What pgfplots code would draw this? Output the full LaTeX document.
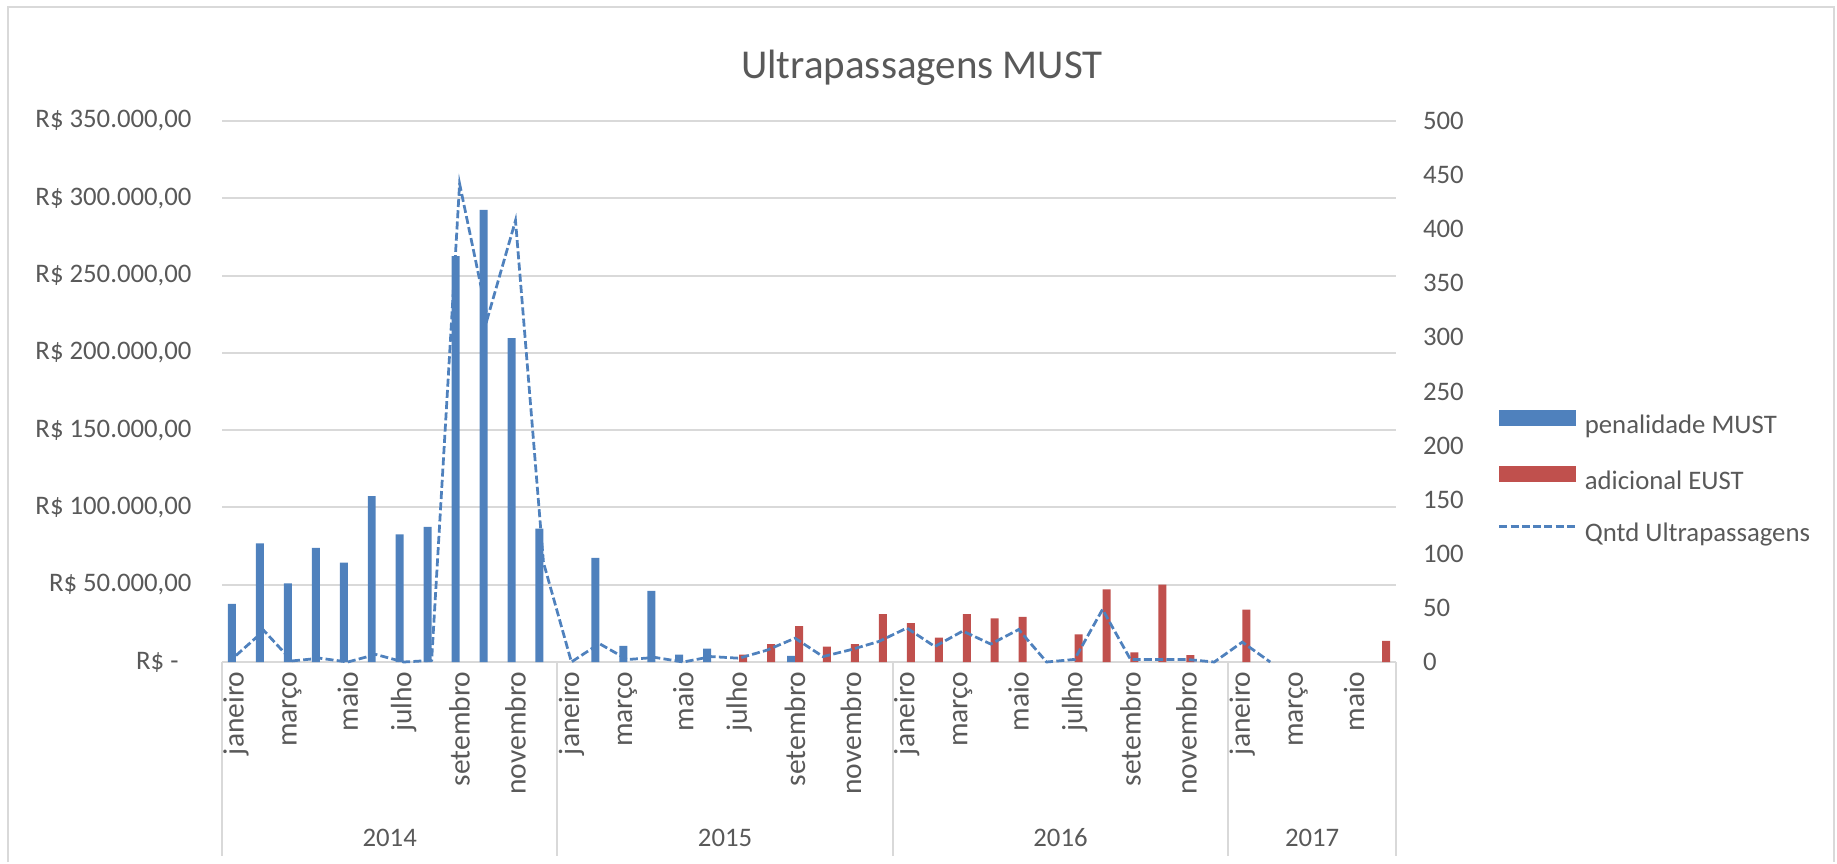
\documentclass[border=0pt]{standalone}
\usepackage{fontspec}
\setmainfont{Carlito}
\usepackage{pgfplots}
\pgfplotsset{compat=1.18}
\definecolor{mblue}{HTML}{4F81BD}
\definecolor{mred}{HTML}{C0504D}
\definecolor{gridc}{HTML}{D9D9D9}
\definecolor{txt}{HTML}{595959}
\newcommand\tf{\fontsize{10.7pt}{12pt}\selectfont}
\begin{document}
\begin{tikzpicture}[x=0.4pt,y=0.4pt]
\path (0,0) rectangle (1837,862);
\draw[gridc, line width=0.8pt] (8,0) -- (8,855) -- (1834,855) -- (1834,0);
\node[anchor=base, text=txt, font=\fontsize{16.4pt}{18pt}\selectfont] at (922,784) {Ultrapassagens MUST};
\begin{axis}[
  at={(88.8pt,80pt)}, anchor=south west,
  width=469.6pt, height=216.4pt, scale only axis,
  xmin=-0.5, xmax=41.5, ymin=0, ymax=350000,
  scaled y ticks=false,
  axis line style={draw=none},
  major tick length=0pt,
  ymajorgrids, grid style={gridc, line width=0.8pt},
  ytick={0,50000,100000,150000,200000,250000,300000,350000},
  yticklabels={R\$ -\hspace*{5.2pt}, R\$ 50.000{,}00, R\$ 100.000{,}00, R\$ 150.000{,}00, R\$ 200.000{,}00, R\$ 250.000{,}00, R\$ 300.000{,}00, R\$ 350.000{,}00},
  yticklabel style={anchor=east, inner sep=0pt, xshift=-12pt, font=\tf, text=txt},
  xtick={0,2,4,6,8,10,12,14,16,18,20,22,24,26,28,30,32,34,36,38,40},
  xticklabels={janeiro,março,maio,julho,setembro,novembro,janeiro,março,maio,julho,setembro,novembro,janeiro,março,maio,julho,setembro,novembro,janeiro,março,maio},
  xticklabel style={rotate=90, anchor=east, inner xsep=3.6pt, inner ysep=0pt, font=\fontsize{11.8pt}{12pt}\selectfont, text=txt},
  clip=false,
]
\addplot[ybar, bar width=0.286, bar shift=-0.143, fill=mblue, draw=none] coordinates {
(0,37600) (1,76700) (2,50900) (3,73900) (4,64300) (5,107300) (6,82600) (7,87500)
(8,262600) (9,292500) (10,209500) (11,86300) (13,67300) (14,10500) (15,46000)
(16,4800) (17,8600) (20,4000)
};
\addplot[ybar, bar width=0.286, bar shift=0.143, fill=mred, draw=none] coordinates {
(18,4800) (19,11500) (20,23200) (21,9900) (22,11600) (23,30900)
(24,25200) (25,15800) (26,30900) (27,28200) (28,29200) (30,17800) (31,47000)
(32,6200) (33,50000) (34,4500) (36,33900) (41,13600)
};
\end{axis}
\begin{axis}[
  at={(88.8pt,80pt)}, anchor=south west,
  width=469.6pt, height=216.4pt, scale only axis,
  xmin=-0.5, xmax=41.5, ymin=0, ymax=500,
  axis x line=none, axis y line*=right,
  y axis line style={draw=none},
  major tick length=0pt,
  ytick={0,50,100,150,200,250,300,350,400,450,500},
  yticklabels={0,50,100,150,200,250,300,350,400,450,500},
  yticklabel style={anchor=west, inner sep=0pt, xshift=10.6pt, font=\tf, text=txt},
  clip=false,
  legend style={at={(1.0865,0.466)}, anchor=north west, draw=none, fill=none, inner sep=0pt,
    row sep=10.8pt, column sep=3.2pt, font=\tf, text=txt,
    nodes={inner sep=0pt, text height=7.5pt, text depth=2.5pt}},
  legend cell align=left,
]
\addlegendimage{legend image code/.code={\fill[mblue] (0pt,0.4pt) rectangle (30.4pt,6.4pt);}}
\addlegendentry{penalidade MUST}
\addlegendimage{legend image code/.code={\fill[mred] (0pt,0.4pt) rectangle (30.4pt,6.4pt);}}
\addlegendentry{adicional EUST}
\addplot[mblue, line width=1.1pt, dash pattern=on 3.2pt off 1.3pt,
  legend image code/.code={\draw[mblue, line width=1.1pt, dash pattern=on 3.2pt off 1.3pt] (0pt,3.4pt) -- (30.4pt,3.4pt);}] coordinates {
(0,6) (1,29) (2,1) (3,3.5) (4,0) (5,7) (6,0) (7,1.5) (8,442) (9,318) (10,408) (11,92)
(12,0) (13,17) (14,2.3) (15,4.2) (16,0) (17,5) (18,3.5) (19,11) (20,22) (21,5) (22,11.4) (23,19)
(24,31.4) (25,14.3) (26,28.6) (27,16.6) (28,30) (29,0) (30,2.4) (31,48.6) (32,2.4) (33,2.4) (34,2.4) (35,0)
(36,18.4) (37,0)
};
\addlegendentry{Qntd Ultrapassagens}
\end{axis}
\foreach \xx in {222,557.4,892.8,1228.2,1396} {\draw[gridc, line width=0.8pt] (\xx,200) -- (\xx,6);}
\node[anchor=base, text=txt, font=\tf] at (389.7,15.5) {2014};
\node[anchor=base, text=txt, font=\tf] at (725.1,15.5) {2015};
\node[anchor=base, text=txt, font=\tf] at (1060.5,15.5) {2016};
\node[anchor=base, text=txt, font=\tf] at (1312.1,15.5) {2017};
\end{tikzpicture}
\end{document}
